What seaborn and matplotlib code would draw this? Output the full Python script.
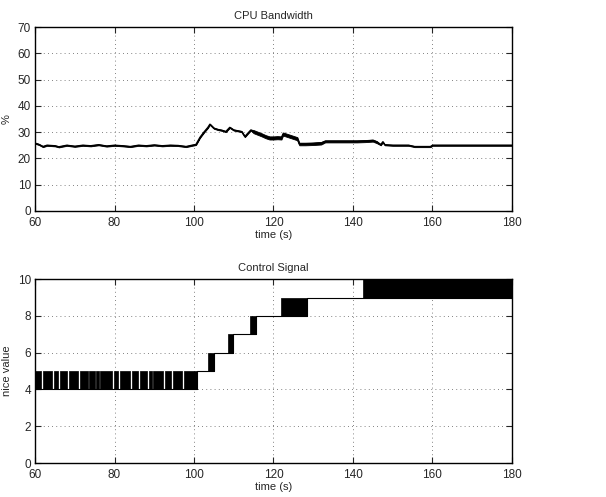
import numpy as np
import pandas as pd
import seaborn as sns
import matplotlib.pyplot as plt

# CPU bandwidth trace: time, lower / upper edge of the trace
cpu_t = [60, 61, 62, 63, 65, 66, 68, 70, 72, 74, 76, 78, 80, 82, 84, 86, 88, 90, 92, 94,
         96, 98, 99.5, 100.5, 101.5, 102.5, 103.5, 104, 105, 106, 107, 108, 109, 110, 111,
         112, 112.8, 113.5, 114.3, 115, 116, 117, 118, 119, 120, 121, 122, 122.4, 123, 124,
         125, 126, 126.5, 128, 130, 132, 133, 135, 137, 139, 141, 143, 145, 146, 147, 147.5,
         148, 150, 152, 154, 155.5, 157, 159.5, 160, 165, 170, 175, 180]
cpu_mid = [25.8, 25.3, 24.5, 25.0, 24.8, 24.4, 25.0, 24.6, 25.0, 24.8, 25.2, 24.7, 25.0, 24.8,
           24.5, 25.0, 24.8, 25.1, 24.8, 25.0, 24.9, 24.5, 25.0, 25.3, 28.0, 30.0, 31.8, 33.0,
           31.5, 31.0, 30.7, 30.2, 31.8, 30.8, 30.5, 30.2, 28.3, 29.5, 30.8, 30.2, 29.6, 29.0,
           28.3, 27.8, 27.8, 27.9, 27.8, 29.3, 29.0, 28.5, 28.0, 27.5, 25.5, 25.5, 25.6, 25.8,
           26.5, 26.5, 26.5, 26.5, 26.5, 26.6, 26.8, 26.2, 25.2, 26.3, 25.2, 25.0, 25.0, 25.0,
           24.5, 24.5, 24.5, 25.0, 25.0, 25.0, 25.0, 25.0]
cpu_spread = [0.2] * 39 + [0.6] * 13 + [0.5] * 4 + [0.4] * 8 + [0.2] * 14

# Control signal: nice value levels and the dithering bands (start, end, lower level)
ctrl_t = [60, 100.7, 105, 109.7, 115.5, 128.5, 180]
ctrl_v = [4, 5, 6, 7, 8, 9, 9]
band_start = [60, 103.5, 108.5, 114.0, 122.0, 142.5]
band_end = [100.7, 105.0, 109.7, 115.5, 128.5, 180]
band_low = [4, 5, 6, 7, 8, 9]
# white gaps inside the 4..5 band (start, end)
gap_start = [61.5, 64.3, 65.9, 68.1, 70.8, 73.3, 75.0, 76.0, 79.3, 80.9, 83.8, 85.9,
             88.1, 89.4, 92.3, 94.3, 97.1]
gap_end = [61.9, 64.7, 66.3, 68.5, 71.3, 73.7, 75.4, 76.4, 79.8, 81.3, 84.3, 86.3,
           88.6, 89.8, 92.8, 94.8, 97.6]

sns.set_style("ticks")
plt.rcParams['font.family'] = ['Liberation Sans', 'DejaVu Sans']
plt.rcParams['font.size'] = 8

fig = plt.figure(figsize=(6.06, 4.97), dpi=100)
ax1 = fig.add_axes([0.0578, 0.5755, 0.787, 0.370])
ax2 = fig.add_axes([0.0578, 0.0684, 0.787, 0.370])

cpu = pd.DataFrame({'t': cpu_t, 'v': cpu_mid, 's': cpu_spread})
ax1.fill_between(cpu['t'], cpu['v'] - cpu['s'], cpu['v'] + cpu['s'], color='black', lw=0.6)
sns.lineplot(data=cpu, x='t', y='v', ax=ax1, color='black', lw=1.1)
ax1.set_ylim(0, 70)
ax1.set_yticks(range(0, 71, 10))
ax1.set_ylabel('%')
ax1.set_title('CPU Bandwidth', fontsize=8)

# control signal: dithering bands, minus the gaps in the first one
for s, e, lo in zip(band_start, band_end, band_low):
    edges = [s]
    if lo == 4:
        for gs, ge in zip(gap_start, gap_end):
            edges += [gs, ge]
    edges.append(e)
    for a, b in zip(edges[::2], edges[1::2]):
        ax2.fill_between([a, b], lo, lo + 1, color='black', lw=0.5)
ctrl = pd.DataFrame({'t': ctrl_t, 'v': ctrl_v})
ax2.step(ctrl['t'], ctrl['v'], where='post', color='black', lw=0.8)
ax2.set_ylim(0, 10)
ax2.set_yticks(range(0, 11, 2))
ax2.set_ylabel('nice value')
ax2.set_title('Control Signal', fontsize=8)

for ax in (ax1, ax2):
    ax.set_xlim(60, 180)
    ax.set_xticks(range(60, 181, 20))
    ax.set_xlabel('time (s)', labelpad=1)
    ax.grid(True, color='0.35', linestyle=(0, (1, 4)), lw=0.6)
    ax.tick_params(direction='in', top=True, right=True, length=4, width=0.8,
                   labelsize=8.5)
    ax.tick_params(axis='x', pad=4)
    ax.tick_params(axis='y', pad=3)
    for sp in ax.spines.values():
        sp.set_visible(True)
        sp.set_linewidth(1.0)
        sp.set_color('black')

fig.savefig('out.png', dpi=100)
